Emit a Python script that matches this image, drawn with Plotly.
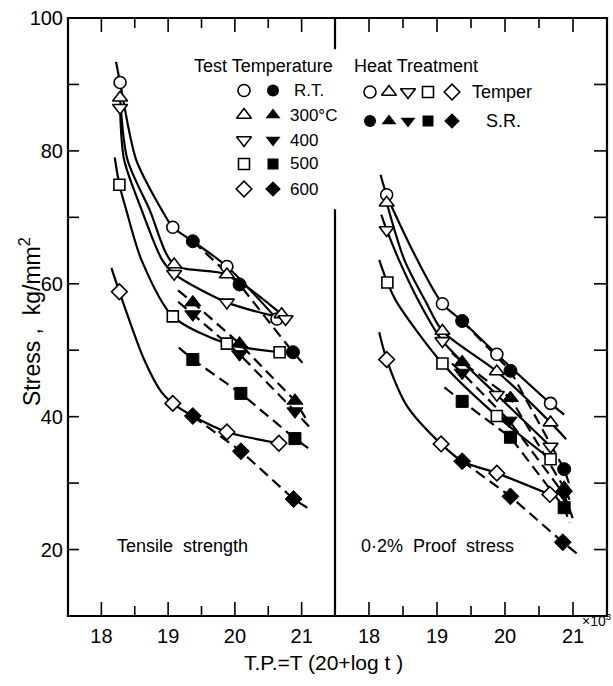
import plotly.graph_objects as go

# ================= DATA =================
# x: T.P. = T(20+log t) in units of 10^3 ; y: stress kg/mm^2
# ---------- Tensile strength (left panel) : Temper (open symbols) ----------
TS_RT_TEMPER_X = [18.28, 19.07, 19.88, 20.63]
TS_RT_TEMPER_Y = [90.3, 68.5, 62.6, 54.7]
TS_300_TEMPER_X = [18.28, 19.09, 19.88, 20.70]
TS_300_TEMPER_Y = [88.0, 62.9, 61.4, 55.4]
TS_400_TEMPER_X = [18.28, 19.09, 19.88, 20.76]
TS_400_TEMPER_Y = [86.5, 61.5, 57.2, 54.7]
TS_500_TEMPER_X = [18.27, 19.07, 19.88, 20.67]
TS_500_TEMPER_Y = [74.9, 55.1, 51.0, 49.7]
TS_600_TEMPER_X = [18.27, 19.07, 19.88, 20.66]
TS_600_TEMPER_Y = [58.8, 42.0, 37.7, 36.0]
# ---------- Tensile strength : S.R. (filled symbols) ----------
TS_RT_SR_X = [19.37, 20.07, 20.87]
TS_RT_SR_Y = [66.4, 59.9, 49.7]
TS_300_SR_X = [19.37, 20.07, 20.90]
TS_300_SR_Y = [57.2, 51.0, 42.4]
TS_400_SR_X = [19.37, 20.07, 20.90]
TS_400_SR_Y = [55.4, 49.4, 40.8]
TS_500_SR_X = [19.37, 20.09, 20.90]
TS_500_SR_Y = [48.6, 43.5, 36.7]
TS_600_SR_X = [19.37, 20.09, 20.88]
TS_600_SR_Y = [40.1, 34.8, 27.6]
# ---------- Tensile strength : drawn curves (solid, Temper) ----------
TS_RT_CURVE_X = [18.22, 18.28, 18.52, 18.90, 19.07, 19.37, 19.88, 20.63]
TS_RT_CURVE_Y = [93.4, 90.3, 78.7, 71.2, 68.5, 66.4, 62.6, 54.7]
TS_300_CURVE_X = [18.28, 18.39, 18.72, 19.09, 19.88, 20.70]
TS_300_CURVE_Y = [88.0, 78.7, 71.2, 62.9, 61.4, 55.4]
TS_400_CURVE_X = [18.28, 18.34, 18.60, 18.91, 19.09, 19.88, 20.76]
TS_400_CURVE_Y = [86.5, 78.7, 71.2, 63.6, 61.5, 57.2, 54.7]
TS_500_CURVE_X = [18.20, 18.27, 18.37, 18.60, 19.07, 19.88, 20.67]
TS_500_CURVE_Y = [79.0, 74.9, 71.2, 63.6, 55.1, 51.0, 49.7]
TS_600_CURVE_X = [18.15, 18.27, 18.64, 18.90, 19.07, 19.37, 19.88, 20.66]
TS_600_CURVE_Y = [62.4, 58.8, 48.6, 43.7, 42.0, 40.1, 37.7, 36.0]
# ---------- Tensile strength : drawn lines (dashed, S.R.) ----------
TS_RT_DASH_X = [19.37, 20.07, 20.87, 21.06]
TS_RT_DASH_Y = [66.4, 59.9, 49.7, 47.6]
TS_300_DASH_X = [19.15, 19.37, 20.07, 20.90, 21.07]
TS_300_DASH_Y = [59.0, 57.2, 51.0, 42.4, 39.6]
TS_400_DASH_X = [19.15, 19.37, 20.07, 20.90, 21.15]
TS_400_DASH_Y = [57.3, 55.4, 49.4, 40.8, 38.1]
TS_500_DASH_X = [19.16, 19.37, 20.09, 20.90, 21.16]
TS_500_DASH_Y = [50.4, 48.6, 43.5, 36.7, 34.8]
TS_600_DASH_X = [19.37, 20.09, 20.88, 21.16]
TS_600_DASH_Y = [40.1, 34.8, 27.6, 25.8]

# ---------- 0.2% Proof stress (right panel) : Temper ----------
PS_RT_TEMPER_X = [18.26, 19.08, 19.88, 20.67]
PS_RT_TEMPER_Y = [73.4, 57.0, 49.4, 42.0]
PS_300_TEMPER_X = [18.26, 19.08, 19.88, 20.67]
PS_300_TEMPER_Y = [72.2, 52.9, 46.8, 39.1]
PS_400_TEMPER_X = [18.26, 19.08, 19.88, 20.67]
PS_400_TEMPER_Y = [68.1, 51.4, 43.3, 35.5]
PS_500_TEMPER_X = [18.27, 19.08, 19.88, 20.67]
PS_500_TEMPER_Y = [60.2, 48.0, 40.1, 33.6]
PS_600_TEMPER_X = [18.26, 19.06, 19.88, 20.66]
PS_600_TEMPER_Y = [48.6, 35.9, 31.5, 28.3]
# ---------- 0.2% Proof stress : S.R. ----------
PS_RT_SR_X = [19.37, 20.08, 20.87]
PS_RT_SR_Y = [54.4, 46.9, 32.1]
PS_300_SR_X = [19.37, 20.08, 20.87]
PS_300_SR_Y = [48.2, 42.8, 29.3]
PS_400_SR_X = [19.37, 20.06, 20.87]
PS_400_SR_Y = [46.6, 39.4, 28.3]
PS_500_SR_X = [19.37, 20.08, 20.87]
PS_500_SR_Y = [42.3, 36.9, 26.3]
PS_600_SR_X = [19.37, 20.08, 20.85]
PS_600_SR_Y = [33.3, 28.0, 21.1]
# ---------- 0.2% Proof stress : drawn curves (solid) ----------
PS_RT_CURVE_X = [18.17, 18.26, 18.71, 19.08, 19.37, 19.88, 20.67, 20.87]
PS_RT_CURVE_Y = [76.4, 73.4, 63.6, 57.0, 54.4, 49.4, 42.0, 40.3]
PS_300_CURVE_X = [18.26, 18.52, 18.84, 19.08, 19.88, 20.67, 20.90]
PS_300_CURVE_Y = [72.2, 63.6, 57.2, 52.9, 46.8, 39.1, 36.6]
PS_400_CURVE_X = [18.18, 18.26, 18.44, 18.74, 19.08, 19.88, 20.67]
PS_400_CURVE_Y = [70.4, 68.1, 63.6, 57.2, 51.4, 43.3, 35.5]
PS_500_CURVE_X = [18.15, 18.27, 18.41, 19.08, 19.88, 20.67]
PS_500_CURVE_Y = [63.6, 60.2, 57.2, 48.0, 40.1, 33.6]
PS_600_CURVE_X = [18.15, 18.26, 18.56, 19.06, 19.37, 19.88, 20.66]
PS_600_CURVE_Y = [52.7, 48.6, 41.6, 35.9, 33.3, 31.5, 28.3]
# ---------- 0.2% Proof stress : drawn lines (dashed) ----------
PS_RT_DASH_X = [19.37, 20.08, 20.87, 20.94]
PS_RT_DASH_Y = [54.4, 46.9, 32.1, 30.0]
PS_300_DASH_X = [19.22, 19.37, 20.08, 20.87, 20.95]
PS_300_DASH_Y = [49.6, 48.2, 42.8, 29.3, 27.5]
PS_400_DASH_X = [19.22, 19.37, 20.06, 20.87, 21.00]
PS_400_DASH_Y = [48.0, 46.6, 39.4, 28.3, 24.6]
PS_500_DASH_X = [19.11, 19.37, 20.08, 20.87, 20.95]
PS_500_DASH_Y = [44.4, 42.3, 36.9, 26.3, 24.0]
PS_600_DASH_X = [19.37, 20.08, 20.85, 21.07]
PS_600_DASH_Y = [33.3, 28.0, 21.1, 19.3]

TEMPS = ["R.T.", "300°C", "400", "500", "600"]
SYMBOLS = ["circle", "triangle-up", "triangle-down", "square", "diamond"]
SIZES = [12, 13, 13, 11, 12]
X_TICKS = [18, 19, 20, 21]
X_MINOR = [18.5, 19.5, 20.5]
Y_TICKS = [20, 40, 60, 80, 100]
Y_MINOR = [20, 30, 40, 50, 60, 70, 80, 90]
X_RANGE = [17.5, 21.5]
Y_RANGE = [10, 100]

# ================= FIGURE =================
W, H = 613, 686
L, R, T, B = 68, 6, 18, 70
PW, PH = W - L - R, H - T - B
LEFT_W = 267
RIGHT_W = PW - LEFT_W
SPLIT = LEFT_W / PW
FONT = "Liberation Sans"
XSPAN = X_RANGE[1] - X_RANGE[0]
YSPAN = Y_RANGE[1] - Y_RANGE[0]


def px(xp):
    return (xp - L) / PW


def py(yp):
    return (H - B - yp) / PH


# pixel position -> panel coordinates (used only for legend symbols)
def left_x(xp):
    return X_RANGE[0] + (xp - L) * XSPAN / LEFT_W


def right_x(xp):
    return X_RANGE[0] + (xp - L - LEFT_W) * XSPAN / RIGHT_W


def pan_y(yp):
    return Y_RANGE[0] + (H - B - yp) * YSPAN / PH


fig = go.Figure()

panels = [
    ("x", "y",
     [TS_RT_TEMPER_X, TS_300_TEMPER_X, TS_400_TEMPER_X, TS_500_TEMPER_X, TS_600_TEMPER_X],
     [TS_RT_TEMPER_Y, TS_300_TEMPER_Y, TS_400_TEMPER_Y, TS_500_TEMPER_Y, TS_600_TEMPER_Y],
     [TS_RT_SR_X, TS_300_SR_X, TS_400_SR_X, TS_500_SR_X, TS_600_SR_X],
     [TS_RT_SR_Y, TS_300_SR_Y, TS_400_SR_Y, TS_500_SR_Y, TS_600_SR_Y],
     [TS_RT_CURVE_X, TS_300_CURVE_X, TS_400_CURVE_X, TS_500_CURVE_X, TS_600_CURVE_X],
     [TS_RT_CURVE_Y, TS_300_CURVE_Y, TS_400_CURVE_Y, TS_500_CURVE_Y, TS_600_CURVE_Y],
     [TS_RT_DASH_X, TS_300_DASH_X, TS_400_DASH_X, TS_500_DASH_X, TS_600_DASH_X],
     [TS_RT_DASH_Y, TS_300_DASH_Y, TS_400_DASH_Y, TS_500_DASH_Y, TS_600_DASH_Y]),
    ("x2", "y2",
     [PS_RT_TEMPER_X, PS_300_TEMPER_X, PS_400_TEMPER_X, PS_500_TEMPER_X, PS_600_TEMPER_X],
     [PS_RT_TEMPER_Y, PS_300_TEMPER_Y, PS_400_TEMPER_Y, PS_500_TEMPER_Y, PS_600_TEMPER_Y],
     [PS_RT_SR_X, PS_300_SR_X, PS_400_SR_X, PS_500_SR_X, PS_600_SR_X],
     [PS_RT_SR_Y, PS_300_SR_Y, PS_400_SR_Y, PS_500_SR_Y, PS_600_SR_Y],
     [PS_RT_CURVE_X, PS_300_CURVE_X, PS_400_CURVE_X, PS_500_CURVE_X, PS_600_CURVE_X],
     [PS_RT_CURVE_Y, PS_300_CURVE_Y, PS_400_CURVE_Y, PS_500_CURVE_Y, PS_600_CURVE_Y],
     [PS_RT_DASH_X, PS_300_DASH_X, PS_400_DASH_X, PS_500_DASH_X, PS_600_DASH_X],
     [PS_RT_DASH_Y, PS_300_DASH_Y, PS_400_DASH_Y, PS_500_DASH_Y, PS_600_DASH_Y]),
]

for xa, ya, tx, ty, sx, sy, cx, cy, dx, dy in panels:
    for i in range(5):
        fig.add_trace(go.Scatter(x=dx[i], y=dy[i], xaxis=xa, yaxis=ya, mode="lines",
                                 line=dict(color="black", width=2.2, dash="11px,6px"),
                                 hoverinfo="skip"))
        fig.add_trace(go.Scatter(x=cx[i], y=cy[i], xaxis=xa, yaxis=ya, mode="lines",
                                 line=dict(color="black", width=2.2, shape="spline", smoothing=0.8),
                                 hoverinfo="skip"))
    for i in range(5):
        fig.add_trace(go.Scatter(x=tx[i], y=ty[i], xaxis=xa, yaxis=ya, mode="markers",
                                 marker=dict(symbol=SYMBOLS[i], size=SIZES[i], color="white",
                                             line=dict(color="black", width=1.6)),
                                 name=TEMPS[i] + " Temper"))
        fig.add_trace(go.Scatter(x=sx[i], y=sy[i], xaxis=xa, yaxis=ya, mode="markers",
                                 marker=dict(symbol=SYMBOLS[i], size=SIZES[i] + 1, color="black",
                                             line=dict(color="black", width=1)),
                                 name=TEMPS[i] + " S.R."))

# ---------- legend symbols ----------
LEG_ROW_Y = [90.5, 115, 140, 164, 189]
for i in range(5):
    fig.add_trace(go.Scatter(x=[left_x(244)], y=[pan_y(LEG_ROW_Y[i])], xaxis="x", yaxis="y",
                             mode="markers",
                             marker=dict(symbol=SYMBOLS[i], size=SIZES[i], color="white",
                                         line=dict(color="black", width=1.6)), hoverinfo="skip"))
    fig.add_trace(go.Scatter(x=[left_x(273)], y=[pan_y(LEG_ROW_Y[i])], xaxis="x", yaxis="y",
                             mode="markers",
                             marker=dict(symbol=SYMBOLS[i], size=SIZES[i], color="black"),
                             hoverinfo="skip"))
HT_X = [370, 389, 408, 428, 452]
for i in range(5):
    fig.add_trace(go.Scatter(x=[right_x(HT_X[i])], y=[pan_y(92)], xaxis="x2", yaxis="y2",
                             mode="markers",
                             marker=dict(symbol=SYMBOLS[i], size=SIZES[i], color="white",
                                         line=dict(color="black", width=1.6)), hoverinfo="skip"))
    fig.add_trace(go.Scatter(x=[right_x(HT_X[i])], y=[pan_y(121)], xaxis="x2", yaxis="y2",
                             mode="markers",
                             marker=dict(symbol=SYMBOLS[i], size=SIZES[i], color="black"),
                             hoverinfo="skip"))

ann = []


def text(xp, yp, s, size=17, xanchor="left", angle=0):
    ann.append(dict(x=px(xp), y=py(yp), xref="paper", yref="paper", text=s, showarrow=False,
                    xanchor=xanchor, yanchor="middle", textangle=angle,
                    font=dict(family=FONT, size=size, color="black")))


text(263, 66, "Test Temperature", 18, "center")
text(416, 66, "Heat Treatment", 18, "center")
for i, lab in enumerate(TEMPS):
    text(288 if i else 292, LEG_ROW_Y[i], lab, 17)
text(470, 92, "Temper", 18)
text(484, 121, "S.R.", 18)
text(115, 546, "Tensile  strength", 18)
text(359, 546, "0·2%  Proof  stress", 18)
text(323, 662, "T.P.=T (20+log t )", 21, "center")
text(580, 620, "×10<sup>3</sup>", 14)
text(30, 322, "Stress ,  kg/mm<sup>2</sup>", 23, "center", -90)

# ---------- frame, ticks and divider as thin filled rectangles (paper coords) ----------
def xpaper(v, panel):
    if panel == 0:
        return (v - X_RANGE[0]) / XSPAN * SPLIT
    return SPLIT + (v - X_RANGE[0]) / XSPAN * (1 - SPLIT)


def ypaper(v):
    return (v - Y_RANGE[0]) / YSPAN


shapes = []


def bar(x0, x1, y0, y1):
    shapes.append(dict(type="rect", xref="paper", yref="paper", x0=x0, x1=x1, y0=y0, y1=y1,
                       fillcolor="black", line=dict(width=0), layer="above"))


hx, hy = 1.1 / PW, 1.1 / PH      # half frame thickness
bar(-hx, hx, -hy, 1 + hy)        # left
bar(1 - hx, 1 + hx, -hy, 1 + hy)  # right
bar(-hx, 1 + hx, -hy, hy)        # bottom
bar(-hx, 1 + hx, 1 - hy, 1 + hy)  # top
# divider (two pieces, interrupted by the legend)
bar(SPLIT - hx, SPLIT + hx, 0, ypaper(71.2))
bar(SPLIT - hx, SPLIT + hx, ypaper(95.3), 1)
tx_, ty_ = 0.8 / PW, 0.8 / PH
for panel in (0, 1):
    for vals, ln in ((X_TICKS, 14), (X_MINOR, 10)):
        for v in vals:
            xc = xpaper(v, panel)
            bar(xc - tx_, xc + tx_, 0, ln / PH)
            bar(xc - tx_, xc + tx_, 1 - ln / PH, 1)
for v in Y_MINOR:
    yc = ypaper(v)
    bar(0, 11 / PW, yc - ty_, yc + ty_)
    bar(1 - 13 / PW, 1, yc - ty_, yc + ty_)

axis_common = dict(showgrid=False, zeroline=False, showline=False, ticks="",
                   tickfont=dict(family=FONT, size=20, color="black"))

fig.update_layout(
    template="none",
    width=W, height=H, margin=dict(l=L, r=R, t=T, b=B, autoexpand=False),
    paper_bgcolor="white", plot_bgcolor="white", showlegend=False,
    font=dict(family=FONT, color="black"),
    xaxis=dict(axis_common, range=X_RANGE, domain=[0, SPLIT], anchor="y",
               tickmode="array", tickvals=X_TICKS, ticklabelstandoff=6),
    xaxis2=dict(axis_common, range=X_RANGE, domain=[SPLIT, 1], anchor="y2",
                tickmode="array", tickvals=X_TICKS, ticklabelstandoff=6),
    yaxis=dict(axis_common, range=Y_RANGE, domain=[0, 1], anchor="x", tickmode="array",
               tickvals=Y_TICKS, ticklabelstandoff=4),
    yaxis2=dict(axis_common, range=Y_RANGE, domain=[0, 1], anchor="x2", side="right",
                showticklabels=False),
    annotations=ann,
    shapes=shapes,
)

fig.write_html("out.html", post_script="document.body.style.margin='0';",
               config={"displayModeBar": False})
